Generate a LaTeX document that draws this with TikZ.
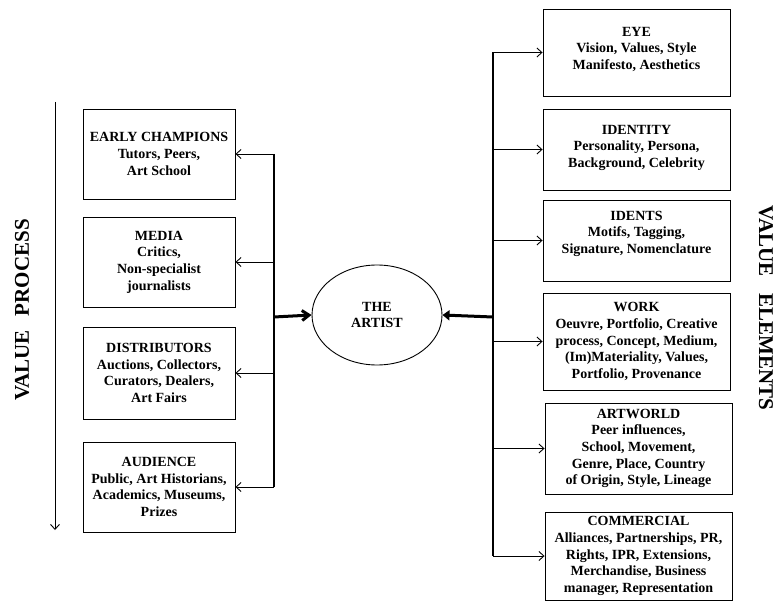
\documentclass[tikz,border=0pt]{standalone}
\usepackage{fontspec}
\setmainfont{Liberation Serif}
\usetikzlibrary{arrows.meta,shapes.geometric}

\begin{document}
\begin{tikzpicture}[x=1pt,y=-1pt,
    box/.style={draw,line width=0.9pt,align=center,inner sep=2pt,font=\fontsize{14}{16.7}\selectfont\bfseries},
    link/.style={line width=0.9pt,-{Straight Barb[length=5pt,width=9pt]}},
    bus/.style={line width=1.4pt},
    bigarrow/.style={line width=3pt},
    side/.style={font=\fontsize{21}{24}\selectfont\bfseries}]
    \useasboundingbox (0,0) rectangle (778,601);

    % The artist in the middle
    \node[draw,ellipse,line width=0.9pt,minimum width=130pt,minimum height=100pt,align=center,
          font=\fontsize{14}{16.7}\selectfont\bfseries] (artist) at (377,315) {THE\\ARTIST};

    % Value process (left side)
    \node[box,minimum width=152pt,minimum height=90pt] (champ) at (159,154) {EARLY CHAMPIONS\\Tutors, Peers,\\Art School};
    \node[box,minimum width=152pt,minimum height=90pt] (media) at (159,262) {MEDIA\\Critics,\\Non-specialist\\journalists};
    \node[box,minimum width=152pt,minimum height=92pt] (dist) at (159,373) {DISTRIBUTORS\\Auctions, Collectors,\\Curators, Dealers,\\Art Fairs};
    \node[box,minimum width=152pt,minimum height=90pt] (aud) at (159,487) {AUDIENCE\\Public, Art Historians,\\Academics, Museums,\\Prizes};

    % Value elements (right side)
    \node[box,minimum width=187pt,minimum height=87pt] (eye) at (636.5,52.5) {EYE\\Vision, Values, Style\\Manifesto, Aesthetics\\[-8pt]};
    \node[box,minimum width=187pt,minimum height=81pt] (ident) at (636.5,149.5) {IDENTITY\\Personality, Persona,\\Background, Celebrity\\[-10pt]};
    \node[box,minimum width=187pt,minimum height=81pt] (idents) at (636.5,240.5) {IDENTS\\Motifs, Tagging,\\Signature, Nomenclature\\};
    \node[box,minimum width=187pt,minimum height=97pt] (work) at (636.5,341.5) {WORK\\Oeuvre, Portfolio, Creative\\process, Concept, Medium,\\(Im)Materiality, Values,\\Portfolio, Provenance};
    \node[box,minimum width=187pt,minimum height=91pt] (artworld) at (638.5,448.5) {ARTWORLD\\Peer influences,\\School, Movement,\\Genre, Place, Country\\of Origin, Style, Lineage};
    \node[box,minimum width=187pt,minimum height=88pt] (comm) at (638.5,556) {COMMERCIAL\\Alliances, Partnerships, PR,\\Rights, IPR, Extensions,\\Merchandise, Business\\manager, Representation};

    % Side titles
    \coordinate (ptop) at (55,102);
    \coordinate (pbot) at (55,530);
    \draw[link] (ptop) -- (pbot);
    \node[side,rotate=90] (proc) at (22,310) {VALUE\hspace{14pt}PROCESS};
    \node[side,rotate=-90] (elem) at (766,308) {VALUE\hspace{17pt}ELEMENTS};

    % Buses
    \coordinate (lbus) at (274,317);
    \coordinate (rbus) at (493,317);
    \draw[bus] (lbus |- champ.east) -- (lbus |- aud.east);
    \draw[bus] (rbus |- eye.west) -- (rbus |- comm.west);
    \draw[bigarrow,-{Straight Barb[length=7pt,width=10pt]}] (lbus) -- (artist.west);
    \draw[bigarrow,-{Triangle[length=7pt,width=10pt]}] (rbus) -- (artist.east);

    % Links to the boxes
    \foreach \b in {champ,media,dist,aud}
        \draw[link] (lbus |- \b.east) -- (\b.east);
    \foreach \b in {eye,ident,idents,work,artworld,comm}
        \draw[link] (rbus |- \b.west) -- (\b.west);
\end{tikzpicture}
\end{document}
